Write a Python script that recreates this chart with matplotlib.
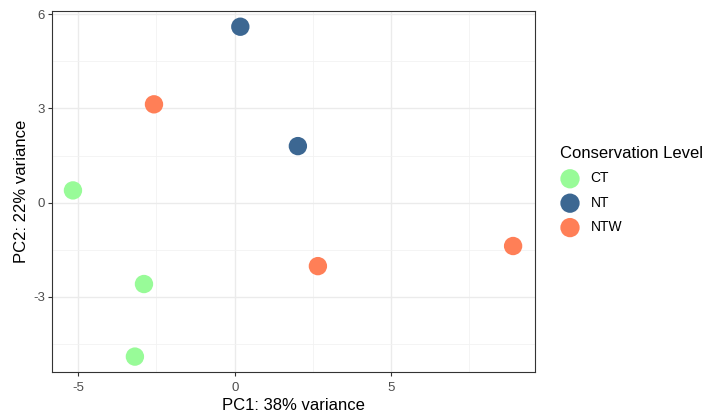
import matplotlib
matplotlib.use("Agg")
import matplotlib.pyplot as plt
from matplotlib.ticker import MultipleLocator

plt.rcParams['font.family'] = ['Liberation Sans', 'DejaVu Sans']
plt.rcParams['axes.unicode_minus'] = False

groups = ["CT", "CT", "CT", "NT", "NT", "NTW", "NTW", "NTW"]
pc1 = [-5.17, -2.90, -3.19, 0.18, 2.02, -2.58, 2.66, 8.90]
pc2 = [0.39, -2.59, -4.90, 5.60, 1.80, 3.13, -2.02, -1.38]
levels = ["CT", "NT", "NTW"]
colors = {"CT": "#98FB98", "NT": "#3C6792", "NTW": "#FF7F57"}

W, H = 705, 413
fig = plt.figure(figsize=(W/100, H/100), dpi=100)
l, r, t, b = 52, 535, 10.7, 372
ax = fig.add_axes([l/W, 1-b/H, (r-l)/W, (b-t)/H])

for lv in levels:
    xs = [x for x, g in zip(pc1, groups) if g == lv]
    ys = [y for y, g in zip(pc2, groups) if g == lv]
    ax.scatter(xs, ys, s=175, color=colors[lv], edgecolors='none', label=lv, zorder=3)

ax.set_xlim(-5.84, 9.60)
ax.set_ylim(-5.39, 6.11)
ax.xaxis.set_major_locator(MultipleLocator(5))
ax.xaxis.set_minor_locator(MultipleLocator(2.5))
ax.set_yticks([-3, 0, 3, 6])
ax.set_yticks([-4.5, -1.5, 1.5, 4.5], minor=True)
ax.grid(True, which='major', color='#EBEBEB', linewidth=1.0, zorder=0)
ax.grid(True, which='minor', color='#F2F2F2', linewidth=0.6, zorder=0)
ax.set_axisbelow(True)
ax.tick_params(which='minor', length=0)
ax.tick_params(which='major', length=3, color='#333333', width=0.8,
               labelsize=9.5, labelcolor='#4D4D4D', pad=2)
ax.tick_params(axis='x', which='major', pad=4)
for sp in ax.spines.values():
    sp.set_color('#333333')
    sp.set_linewidth(0.8)
ax.set_xlabel("PC1: 38% variance", fontsize=12, labelpad=3)
ax.set_ylabel("PC2: 22% variance", fontsize=12, labelpad=3)

handles, labels = ax.get_legend_handles_labels()
leg = fig.legend(handles, labels, title="Conservation Level", loc='upper left',
                 bbox_to_anchor=(560/W, 1-146/H), frameon=False,
                 fontsize=10, title_fontsize=12, markerscale=1.05,
                 handlelength=1.44, handletextpad=0.75, labelspacing=0.75,
                 borderaxespad=0, borderpad=0)
leg._legend_box.align = "left"

fig.savefig("out.png", dpi=100)
